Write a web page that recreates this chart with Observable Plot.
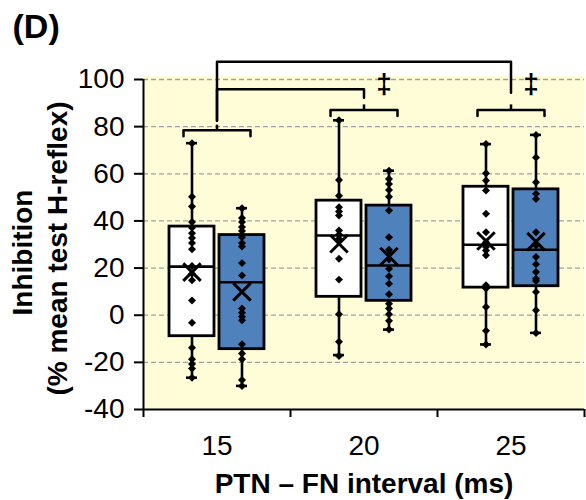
<!DOCTYPE html>
<html><head><meta charset="utf-8">
<script src="https://cdn.jsdelivr.net/npm/d3@7"></script>
<script src="https://cdn.jsdelivr.net/npm/@observablehq/plot@0.6"></script>
<style>body{margin:0;background:#fff;} svg{display:block;}</style>
</head><body><div id="chart"></div>
<script>
// ---- data ----
const intervals = [15, 20, 25];
const seriesNames = ["Series 1", "Series 2"];
const seriesColors = ["#ffffff", "#4f81bd"];

const min1  = [-26.5, -16.9, -12.4];
const q1_1  = [-8.9, 7.8, 11.7];
const med1  = [20.6, 33.8, 29.9];
const q3_1  = [37.6, 48.6, 54.5];
const max1  = [73.0, 82.7, 72.6];
const mean1 = [18.3, 30.3, 31.5];

const min2  = [-30.0, -6.1, -7.5];
const q1_2  = [-14.4, 6.1, 12.3];
const med2  = [14.0, 21.1, 27.8];
const q3_2  = [34.0, 46.5, 53.4];
const max2  = [45.4, 61.3, 76.5];
const mean2 = [9.9, 24.9, 31.2];

const points1 = [
  [73.0, 50.3, 46.1, 39.5, 37.1, 34.8, 32.8, 30.6, 28.0, 20.9, 17.6, 14.8, 6.2, -3.2, -13.8, -18.7, -20.7, -22.6, -26.5],
  [82.7, 57.4, 50.7, 45.8, 44.0, 42.3, 35.9, 34.2, 32.4, 24.0, 15.1, 0.4, -11.3, -17.3],
  [72.6, 60.2, 57.1, 52.9, 43.0, 35.2, 31.0, 28.9, 27.5, 25.4, 12.7, 11.3, 3.5, -6.6, -12.4]
];
const points2 = [
  [45.4, 41.2, 39.5, 37.4, 35.7, 33.1, 30.6, 29.2, 22.1, 16.9, 2.8, 1.0, -0.7, -2.1, -12.3, -16.2, -18.7, -27.5, -30.0],
  [61.3, 57.8, 55.7, 53.1, 50.3, 44.4, 33.1, 27.8, 26.4, 23.6, 19.7, 16.5, 13.4, 8.9, 4.9, 2.8, 0.4, -2.4, -6.1],
  [76.5, 66.9, 56.4, 51.5, 49.3, 35.2, 29.6, 24.7, 21.6, 18.3, 15.5, 14.5, 9.9, 2.1, -7.5]
];

// annotation levels (in % units)
const groupBrackets = [
  {interval: 15, level: 78.5},
  {interval: 20, level: 87.1},
  {interval: 25, level: 87.1}
];
const comparisons = [
  {from: 15, to: 20, start: 82.5, top: 95.9, end: 92.3, sign: "‡", signLevel: 98.2},
  {from: 15, to: 25, start: 82.5, top: 107.5, end: 94.4, sign: "‡", signLevel: 98.2}
];

const yTicks = [-40, -20, 0, 20, 40, 60, 80, 100];
const gridTicks = [-20, 0, 20, 40, 60, 80, 100];
const yTitle1 = "Inhibition";
const yTitle2 = "(% mean test H-reflex)";
const xTitle = "PTN – FN interval (ms)";
const panelLabel = "(D)";

// ---- layout ----
const W = 586, H = 500, mL = 143, mR = 2, mT = 79, mB = 91;
const xDomain = [intervals[0] - 2.5, intervals[intervals.length - 1] + 2.5];
const yDomain = [-40, 100];
const pxX = (W - mL - mR) / (xDomain[1] - xDomain[0]);
const pxY = (H - mT - mB) / (yDomain[1] - yDomain[0]);
const ux = px => px / pxX, uy = px => px / pxY;
const seriesOffset = [-ux(25), ux(25)];
const boxHalf = ux(22.5), capHalf = ux(5.5), brHalf = ux(33.5);
const bounds = d3.range(intervals.length + 1).map(i => xDomain[0] + i * 5);

const stats = [[min1, q1_1, med1, q3_1, max1, mean1], [min2, q1_2, med2, q3_2, max2, mean2]];
const boxes = [];
intervals.forEach((iv, i) => {
  stats.forEach((s, k) => {
    boxes.push({interval: iv, series: seriesNames[k], cx: iv + seriesOffset[k],
      min: s[0][i], q1: s[1][i], med: s[2][i], q3: s[3][i], max: s[4][i], mean: s[5][i]});
  });
});
const pts = [];
[points1, points2].forEach((P, k) => P.forEach((arr, i) => arr.forEach(v =>
  pts.push({interval: intervals[i], series: seriesNames[k], cx: intervals[i] + seriesOffset[k], value: v}))));

const bracketPts = groupBrackets.flatMap((b, j) => [
  {id: j, x: b.interval - brHalf, y: b.level - uy(6)},
  {id: j, x: b.interval - brHalf, y: b.level},
  {id: j, x: b.interval + brHalf, y: b.level},
  {id: j, x: b.interval + brHalf, y: b.level - uy(6)}
]);
const compPts = comparisons.flatMap((c, j) => [
  {id: j, x: c.from, y: c.start},
  {id: j, x: c.from, y: c.top},
  {id: j, x: c.to, y: c.top},
  {id: j, x: c.to, y: c.end}
]);

const font = "'Liberation Sans', Arial, Helvetica, sans-serif";

const chart = Plot.plot({
  width: W, height: H,
  marginLeft: mL, marginRight: mR, marginTop: mT, marginBottom: mB,
  style: {fontFamily: font, fontSize: "28px", color: "black", background: "white"},
  x: {domain: xDomain, axis: null},
  y: {domain: yDomain, axis: null},
  color: {domain: seriesNames, range: seriesColors},
  marks: [
    Plot.frame({fill: "#fffcd8", stroke: "none", insetTop: -4}),
    Plot.gridY(gridTicks, {stroke: "#a0a0a0", strokeOpacity: 1, strokeDasharray: "5,3", strokeWidth: 1.3}),
    Plot.ruleX(boxes, {x: "cx", y1: "min", y2: "max", stroke: "black", strokeWidth: 2.6}),
    Plot.rect(boxes, {x1: d => d.cx - boxHalf, x2: d => d.cx + boxHalf, y1: "q1", y2: "q3",
      fill: "series", stroke: "black", strokeWidth: 2.8}),
    Plot.ruleY(boxes, {y: "med", x1: d => d.cx - boxHalf, x2: d => d.cx + boxHalf, stroke: "black", strokeWidth: 2.6}),
    Plot.ruleY(boxes, {y: "min", x1: d => d.cx - capHalf, x2: d => d.cx + capHalf, stroke: "black", strokeWidth: 2.6}),
    Plot.ruleY(boxes, {y: "max", x1: d => d.cx - capHalf, x2: d => d.cx + capHalf, stroke: "black", strokeWidth: 2.6}),
    Plot.dot(pts, {x: "cx", y: "value", symbol: "diamond2", r: 3.6, fill: "black", stroke: "none"}),
    Plot.dot(boxes, {x: "cx", y: "mean", symbol: "times", r: 8, stroke: "black", strokeWidth: 3, fill: "none"}),
    // axes
    Plot.ruleX([xDomain[0]], {y1: yDomain[0], y2: yDomain[1], stroke: "black", strokeWidth: 2}),
    Plot.ruleY([yDomain[0]], {stroke: "black", strokeWidth: 2}),
    Plot.axisY({ticks: yTicks, tickSize: 9, tickPadding: 10, fontSize: 28, tickFormat: d => String(d), label: null, strokeWidth: 2}),
    Plot.axisX({ticks: bounds, tickSize: 8, tickFormat: () => "", label: null, strokeWidth: 2}),
    Plot.axisX({ticks: intervals, tickSize: 0, tickPadding: 26, fontSize: 28, label: null}),
    // annotations
    Plot.line(bracketPts, {x: "x", y: "y", z: "id", stroke: "black", strokeWidth: 2.5, curve: "linear"}),
    Plot.ruleX(groupBrackets, {x: "interval", y1: "level", y2: d => d.level + uy(5), stroke: "black", strokeWidth: 2.5}),
    Plot.line(compPts, {x: "x", y: "y", z: "id", stroke: "black", strokeWidth: 2.5, curve: "linear"}),
    Plot.text(comparisons, {x: d => d.to + ux(20), y: "signLevel", text: "sign", fontSize: 28, fontWeight: "bold", textAnchor: "middle", lineAnchor: "middle"}),
    // titles
    Plot.text([yTitle1], {frameAnchor: "left", rotate: -90, dx: -120, dy: 8, textAnchor: "middle", lineAnchor: "middle", fontWeight: "bold", fontSize: 28}),
    Plot.text([yTitle2], {frameAnchor: "left", rotate: -90, dx: -85, dy: 4, textAnchor: "middle", lineAnchor: "middle", fontWeight: "bold", fontSize: 28}),
    Plot.text([xTitle], {frameAnchor: "bottom", dy: 74.5, textAnchor: "middle", lineAnchor: "middle", fontWeight: "bold", fontSize: 28}),
    Plot.text([panelLabel], {frameAnchor: "top-left", dx: -131, dy: -52, textAnchor: "start", lineAnchor: "middle", fontWeight: "bold", fontSize: 34})
  ]
});
document.getElementById("chart").append(chart);
</script>
</body></html>
